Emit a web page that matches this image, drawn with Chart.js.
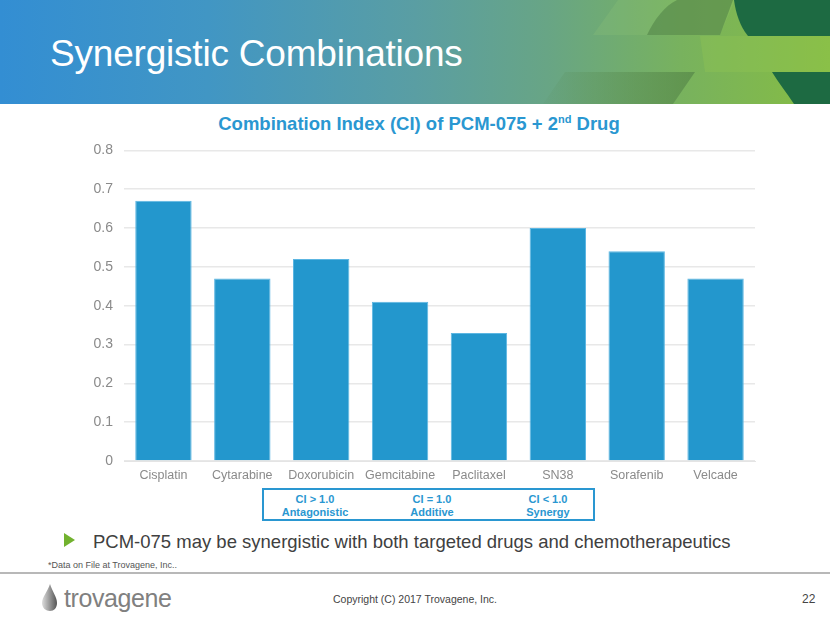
<!DOCTYPE html>
<html><head><meta charset="utf-8">
<script src="https://cdn.jsdelivr.net/npm/chart.js@4/dist/chart.umd.min.js"></script>
<style>
html,body{margin:0;padding:0;background:#fff;width:830px;height:623px;overflow:hidden;font-family:"Liberation Sans",Arial,sans-serif;}
#hdr{position:absolute;left:0;top:0;width:830px;height:104px;background:linear-gradient(90deg,#338ed3 0%,#4196c4 25%,#5a9ea3 50%,#68a585 66%,#78b25e 82%,#86bd42 100%);overflow:hidden;}
#hdr h1{position:absolute;left:50px;top:33px;margin:0;font-weight:normal;font-size:37px;color:#fff;letter-spacing:-0.2px;}
#ctitle{position:absolute;left:0;width:830px;top:113px;text-align:center;font-weight:bold;font-size:18.5px;color:#2a97d1;padding-left:8px;box-sizing:border-box;}
#ctitle sup{font-size:11px;vertical-align:7px;}
#wrap{position:absolute;left:60px;top:131px;width:720px;height:354px;}
#legend{position:absolute;left:262px;top:488px;width:329px;height:29px;border:2px solid #2a97d1;font-weight:bold;font-size:11px;color:#2a97d1;}
#legend div{position:absolute;top:3px;width:110px;text-align:center;line-height:13px;}
#bullet{position:absolute;left:64px;top:531px;font-size:18.5px;color:#404040;}
#bullet .tri{display:inline-block;width:0;height:0;border-top:7px solid transparent;border-bottom:7px solid transparent;border-left:11px solid #72b22f;margin-right:18px;vertical-align:1px;}
#foot{position:absolute;left:48px;top:560px;font-size:9px;color:#555;}
#rule{position:absolute;left:0;top:572px;width:830px;height:2px;background:#b8b8b8;}
#logo{position:absolute;left:40px;top:583px;}
#brand{position:absolute;left:64px;top:584px;font-size:25px;color:#808080;letter-spacing:-0.4px;}
#copy{position:absolute;left:333px;top:593px;font-size:10.5px;color:#444;}
#page{position:absolute;left:802px;top:592px;font-size:12px;color:#444;}
</style></head><body>
<div id="hdr">
<svg width="830" height="104" style="position:absolute;left:0;top:0">
<defs>
<linearGradient id="ol" x1="0" x2="1"><stop offset="0" stop-color="#4f7f45" stop-opacity="0.05"/><stop offset="1" stop-color="#4f7f45" stop-opacity="0.6"/></linearGradient>
</defs>
<polygon points="593,35 618,0 735,0 720,35" fill="#9ccf7a" opacity="0.18"/>
<path d="M647,35 C655,18 665,6 677,0 L733,0 L720,35 Z" fill="#4f7f45" opacity="0.55"/>
<polygon points="543,104 565,72 695,72 673,104" fill="url(#ol)"/>
<path d="M734,0 L830,0 L830,36 L748,36 C740,26 736,14 734,0 Z" fill="#1d6a42"/>
<path d="M772,72 L830,72 L830,104 L794,104 C786,92 778,82 772,72 Z" fill="#1d6a42"/>
<polygon points="700,36 830,36 830,72 705,72" fill="#93c653" opacity="0.35"/>
</svg>
<h1>Synergistic Combinations</h1>
</div>
<div id="ctitle">Combination Index (CI) of PCM-075 + 2<sup>nd</sup> Drug</div>
<div id="wrap"><canvas id="c"></canvas></div>
<div id="legend">
<div style="left:-4px">CI &gt; 1.0<br>Antagonistic</div>
<div style="left:113px">CI = 1.0<br>Additive</div>
<div style="left:229px">CI &lt; 1.0<br>Synergy</div>
</div>
<div id="bullet"><span class="tri"></span>PCM-075 may be synergistic with both targeted drugs and chemotherapeutics</div>
<div id="foot">*Data on File at Trovagene, Inc..</div>
<div id="rule"></div>
<svg id="logo" width="20" height="30"><defs><linearGradient id="g" x1="0" x2="1"><stop offset="0" stop-color="#ddd"/><stop offset="1" stop-color="#555"/></linearGradient></defs><path d="M10,1 C8,8 2,14 2,20 C2,25 6,28 10,28 C14,28 17,25 17,20 C17,14 12,8 10,1 Z" fill="url(#g)"/></svg>
<div id="brand">trovagene</div>
<div id="copy">Copyright (C) 2017 Trovagene, Inc.</div>
<div id="page">22</div>
<script>
const categories = ["Cisplatin","Cytarabine","Doxorubicin","Gemcitabine","Paclitaxel","SN38","Sorafenib","Velcade"];
const ciValues = [0.67,0.47,0.52,0.41,0.33,0.60,0.54,0.47];
const yTicks = [0,0.1,0.2,0.3,0.4,0.5,0.6,0.7,0.8];

new Chart(document.getElementById('c'),{
  type:'bar',
  data:{labels:categories,datasets:[{data:ciValues,backgroundColor:'#2397cd',borderColor:'#5cb6e2',borderWidth:1,categoryPercentage:0.715,barPercentage:1}]},
  options:{
    responsive:true,maintainAspectRatio:false,animation:false,
    layout:{padding:{top:0,right:25,left:0,bottom:0}},
    plugins:{legend:{display:false},tooltip:{enabled:false},title:{display:false}},
    scales:{
      x:{grid:{display:false,drawTicks:false},border:{display:true,color:'#e4e4e4',width:1},
         ticks:{color:'#8a8a8a',font:{family:'"Liberation Sans", Arial',size:12.5},padding:7,maxRotation:0},
         afterFit:(s)=>{s.height=24;}},
      y:{min:0,max:0.8,
         afterBuildTicks:(s)=>{s.ticks=yTicks.map(v=>({value:v}));},
         grid:{color:'#e8e8e8',lineWidth:1.5,drawTicks:false},border:{display:false},
         ticks:{color:'#8a8a8a',font:{family:'"Liberation Sans", Arial',size:14},padding:11,callback:(v)=>String(v)},
         afterFit:(s)=>{s.width=64;}}
    }
  }
});
</script>
</body></html>
